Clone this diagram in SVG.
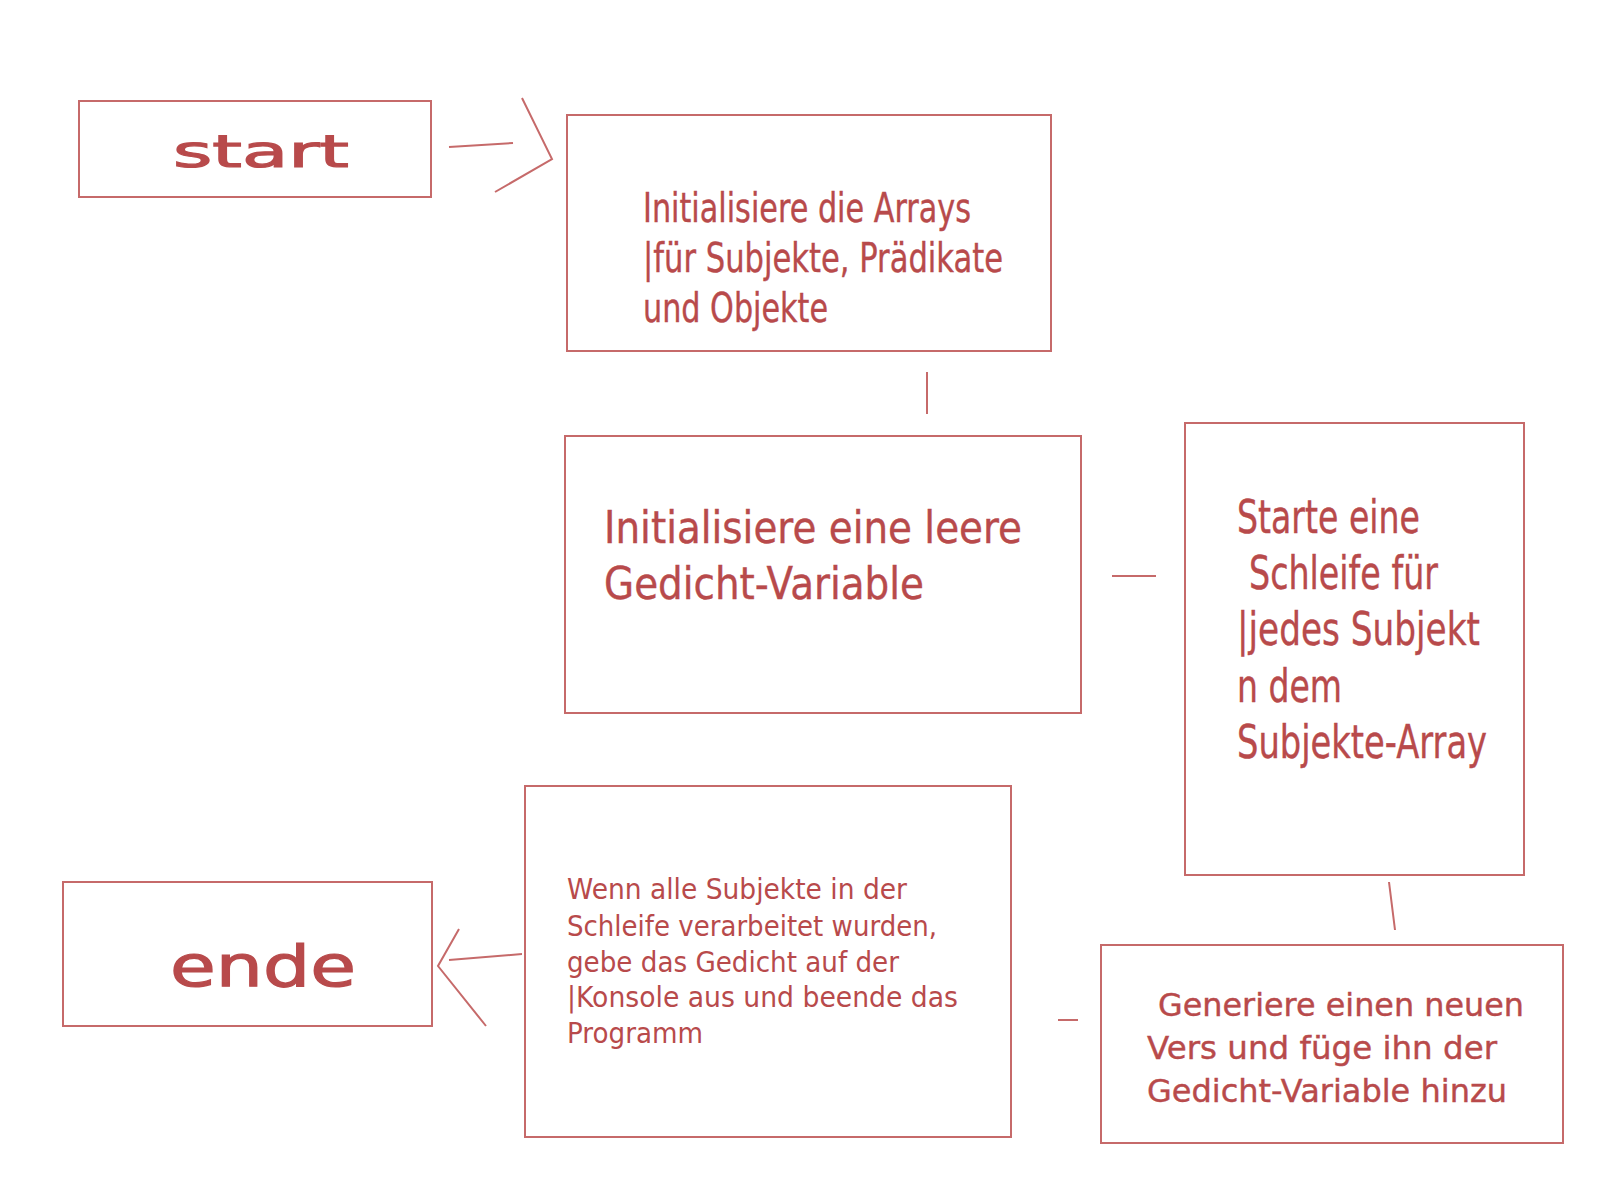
<svg xmlns="http://www.w3.org/2000/svg" width="1600" height="1200" viewBox="0 0 1600 1200">
<style>
.box{fill:#ffffff;stroke:#c66a6a;stroke-width:2}
.ln{fill:none;stroke:#c66a6a;stroke-width:2}
text{font-family:"DejaVu Sans","Liberation Sans",sans-serif;fill:#b84a4b}
.big{stroke:#b84a4b;stroke-width:1.2}
.mid{stroke:#b84a4b;stroke-width:0.4}
</style>
<rect width="1600" height="1200" fill="#ffffff"/>
<g id="connectors">
<line class="ln" x1="449" y1="147" x2="513" y2="143"/>
<polyline class="ln" points="522,98 552,159 495,192"/>
<line class="ln" x1="927" y1="372" x2="927" y2="414"/>
<line class="ln" x1="1112" y1="576" x2="1156" y2="576"/>
<line class="ln" x1="1389" y1="882" x2="1395" y2="930"/>
<line class="ln" x1="1058" y1="1020" x2="1078" y2="1020"/>
<line class="ln" x1="522" y1="954" x2="449" y2="960"/>
<polyline class="ln" points="459,929 438,966 486,1026"/>
</g>
<g id="start">
<rect class="box" x="79" y="101" width="352" height="96"/>
<text class="big" x="173" y="167" font-size="45" textLength="176" lengthAdjust="spacingAndGlyphs">start</text>
</g>
<g id="init-arrays">
<rect class="box" x="567" y="115" width="484" height="236"/>
<text class="mid" x="643" y="222" font-size="40" textLength="328" lengthAdjust="spacingAndGlyphs">Initialisiere die Arrays</text>
<text class="mid" x="643" y="272" font-size="40" textLength="360" lengthAdjust="spacingAndGlyphs">|für Subjekte, Prädikate</text>
<text class="mid" x="643" y="322" font-size="40" textLength="185" lengthAdjust="spacingAndGlyphs">und Objekte</text>
</g>
<g id="init-gedicht">
<rect class="box" x="565" y="436" width="516" height="277"/>
<text class="mid" x="604" y="543" font-size="44" textLength="418" lengthAdjust="spacingAndGlyphs">Initialisiere eine leere</text>
<text class="mid" x="604" y="599" font-size="44" textLength="320" lengthAdjust="spacingAndGlyphs">Gedicht-Variable</text>
</g>
<g id="loop">
<rect class="box" x="1185" y="423" width="339" height="452"/>
<text class="mid" x="1237" y="533" font-size="46" textLength="183" lengthAdjust="spacingAndGlyphs">Starte eine</text>
<text class="mid" x="1249" y="589" font-size="46" textLength="189" lengthAdjust="spacingAndGlyphs">Schleife für</text>
<text class="mid" x="1237" y="645" font-size="46" textLength="243" lengthAdjust="spacingAndGlyphs">|jedes Subjekt</text>
<text class="mid" x="1237" y="702" font-size="46" textLength="105" lengthAdjust="spacingAndGlyphs">n dem</text>
<text class="mid" x="1237" y="758" font-size="46" textLength="250" lengthAdjust="spacingAndGlyphs">Subjekte-Array</text>
</g>
<g id="generate">
<rect class="box" x="1101" y="945" width="462" height="198"/>
<text class="mid" x="1158" y="1016" font-size="32" textLength="366" lengthAdjust="spacingAndGlyphs">Generiere einen neuen</text>
<text class="mid" x="1147" y="1059" font-size="32" textLength="350" lengthAdjust="spacingAndGlyphs">Vers und füge ihn der</text>
<text class="mid" x="1147" y="1102" font-size="32" textLength="360" lengthAdjust="spacingAndGlyphs">Gedicht-Variable hinzu</text>
</g>
<g id="finish">
<rect class="box" x="525" y="786" width="486" height="351"/>
<text x="567" y="899" font-size="28" textLength="340" lengthAdjust="spacingAndGlyphs">Wenn alle Subjekte in der</text>
<text x="567" y="936" font-size="28" textLength="370" lengthAdjust="spacingAndGlyphs">Schleife verarbeitet wurden,</text>
<text x="567" y="972" font-size="28" textLength="332" lengthAdjust="spacingAndGlyphs">gebe das Gedicht auf der</text>
<text x="567" y="1007" font-size="28" textLength="391" lengthAdjust="spacingAndGlyphs">|Konsole aus und beende das</text>
<text x="567" y="1043" font-size="28" textLength="136" lengthAdjust="spacingAndGlyphs">Programm</text>
</g>
<g id="ende">
<rect class="box" x="63" y="882" width="369" height="144"/>
<text class="big" x="170" y="986" font-size="57" textLength="186" lengthAdjust="spacingAndGlyphs">ende</text>
</g>
</svg>
